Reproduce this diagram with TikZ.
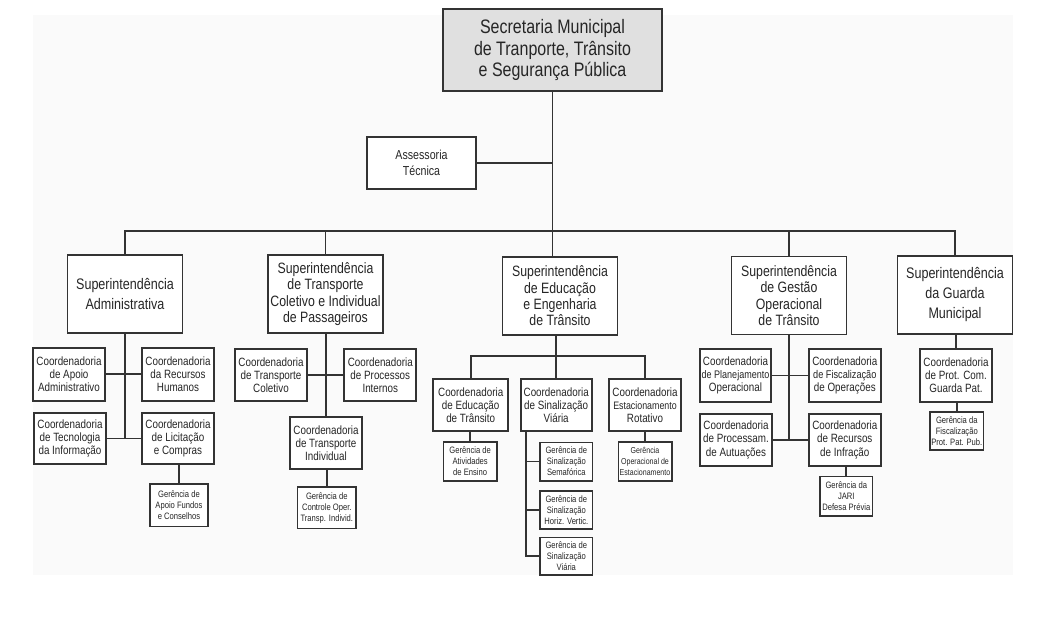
\documentclass[tikz,border=0pt]{standalone}
\usepackage{fontspec}
\setmainfont{Liberation Sans}[FakeStretch=0.82]
\begin{document}
\begin{tikzpicture}[x=1pt,y=-1pt,
  box/.style={draw=black!80,line width=1.8pt,rectangle,inner sep=0pt,align=center,text=black!85,fill=white},
  secbox/.style={box,fill=black!12,font=\fontsize{19.5}{21.5}\selectfont},
  supbox/.style={box,minimum width=115pt,minimum height=78pt,font=\fontsize{15.3}{20}\selectfont},
  supfour/.style={supbox,font=\fontsize{15}{16.4}\selectfont},
  coordbox/.style={box,font=\fontsize{12}{13.3}\selectfont},
  gerbox/.style={box,line width=1.6pt,font=\fontsize{9.3}{11}\selectfont},
  link/.style={draw=black!80,line width=1.7pt}]
\useasboundingbox (0,0) rectangle (1040,630);
\fill[black!2] (33,15) rectangle (1013,575);
% top
\node[secbox,minimum width=219pt,minimum height=82pt] (sec) at (552.5,50) {Secretaria Municipal\\de Tranporte, Trânsito\\e Segurança Pública};
\node[coordbox,minimum width=109pt,minimum height=52pt,font=\fontsize{13}{16}\selectfont] (ass) at (421.5,163) {Assessoria\\Técnica};
% superintendencias
\node[supbox] (sup1) at (125,294) {Superintendência\\Administrativa};
\node[supfour] (sup2) at (325.5,294) {Superintendência\\de Transporte\\Coletivo e Individual\\de Passageiros};
\node[supfour] (sup3) at (560,296) {Superintendência\\de Educação\\e Engenharia\\de Trânsito};
\node[supfour] (sup4) at (789,295.5) {Superintendência\\de Gestão\\Operacional\\de Trânsito};
\node[supbox] (sup5) at (955,295) {Superintendência\\da Guarda\\Municipal};
% bus
\coordinate (bus) at (552.5,231);
\coordinate (asj) at (552.5,163);
\draw[link] (sec.south) -- (sup3.north -| sec.south);
\draw[link] (ass.east) -- (asj);
\draw[link] (sup1.north) |- (bus) -| (sup5.north);
\draw[link] (sup2.north) -- (sup2.north |- bus);
\draw[link] (sup4.north) -- (sup4.north |- bus);
% admin
\node[coordbox,minimum width=72pt,minimum height=53pt] (ca1) at (69,374.2) {Coordenadoria\\de Apoio\\Administrativo};
\node[coordbox,minimum width=72pt,minimum height=53pt] (ca2) at (178,374.2) {Coordenadoria\\da Recursos\\Humanos};
\node[coordbox,minimum width=72pt,minimum height=51pt] (ca3) at (70,438.5) {Coordenadoria\\de Tecnologia\\da Informação};
\node[coordbox,minimum width=72pt,minimum height=51pt] (ca4) at (178,438.5) {Coordenadoria\\de Licitação\\e Compras};
\node[gerbox,minimum width=58pt,minimum height=42.7pt] (ga1) at (179,505.3) {Gerência de\\Apoio Fundos\\e Conselhos};
\coordinate (at1) at (125,374.2);
\coordinate (at2) at (125,438.5);
\draw[link] (sup1.south) -- (at2);
\draw[link] (ca1.east) -- (ca2.west);
\draw[link] (ca3.east) -- (ca4.west);
\draw[link] (ca4.south -| ga1.north) -- (ga1.north);
% transporte
\node[coordbox,minimum width=72pt,minimum height=52pt] (ct1) at (271,375.2) {Coordenadoria\\de Transporte\\Coletivo};
\node[coordbox,minimum width=72pt,minimum height=52pt] (ct2) at (380.3,375.2) {Coordenadoria\\de Processos\\Internos};
\node[coordbox,minimum width=71.4pt,minimum height=52pt] (ct3) at (326,443) {Coordenadoria\\de Transporte\\Individual};
\node[gerbox,minimum width=58.3pt,minimum height=41.7pt] (gt1) at (326.8,507.8) {Gerência de\\Controle Oper.\\Transp. Individ.};
\draw[link] (sup2.south -| ct3.north) -- (ct3.north);
\draw[link] (ct1.east) -- (ct2.west);
\draw[link] (ct3.south) -- (ct3.south -| gt1.north) -- (gt1.north);
% educacao
\node[coordbox,minimum width=74.7pt,minimum height=51.4pt] (ce1) at (470.7,405) {Coordenadoria\\de Educação\\de Trânsito};
\node[coordbox,minimum width=71pt,minimum height=51.4pt] (ce2) at (556.2,405) {Coordenadoria\\de Sinalização\\Viária};
\node[coordbox,minimum width=71.6pt,minimum height=51.4pt] (ce3) at (645,405) {Coordenadoria\\{\fontsize{10.8}{13.3}\selectfont Estacionamento}\\Rotativo};
\node[gerbox,minimum width=53.7pt,minimum height=39pt] (ge1) at (470.2,461.2) {Gerência de\\Atividades\\de Ensino};
\node[gerbox,minimum width=52.7pt,minimum height=38.4pt] (ge2) at (566.3,461.5) {Gerência de\\Sinalização\\Semafórica};
\node[gerbox,minimum width=52.7pt,minimum height=38.3pt] (ge3) at (566.3,509.9) {Gerência de\\Sinalização\\Horiz. Vertic.};
\node[gerbox,minimum width=52.7pt,minimum height=37.3pt] (ge4) at (566.3,556.3) {Gerência de\\Sinalização\\Viária};
\node[gerbox,minimum width=53.4pt,minimum height=39pt,font=\fontsize{8.6}{11}\selectfont] (ge5) at (645,461.2) {Gerência\\Operacional de\\Estacionamento};
\coordinate (eb) at (556.2,356);
\draw[link] (sup3.south -| ce2.north) -- (ce2.north);
\draw[link] (ce1.north) |- (eb) -| (ce3.north);
\draw[link] (ce1.south -| ge1.north) -- (ge1.north);
\draw[link] (ce3.south) -- (ge5.north);
\coordinate (sp) at (526,430.7);
\draw[link] (sp) |- (ge4.west);
\draw[link] (sp |- ge2.west) -- (ge2.west);
\draw[link] (sp |- ge3.west) -- (ge3.west);
% gestao
\node[coordbox,minimum width=71pt,minimum height=52.4pt] (cg1) at (735.5,375.5) {Coordenadoria\\{\fontsize{11}{13.3}\selectfont de Planejamento}\\Operacional};
\node[coordbox,minimum width=71.7pt,minimum height=52.4pt] (cg2) at (844.8,375.5) {Coordenadoria\\{\fontsize{11.2}{13.3}\selectfont de Fiscalização}\\de Operações};
\node[coordbox,minimum width=72pt,minimum height=51.7pt] (cg3) at (736,439.8) {Coordenadoria\\de Processam.\\de Autuações};
\node[coordbox,minimum width=71.7pt,minimum height=51.7pt] (cg4) at (844.8,439.8) {Coordenadoria\\de Recursos\\de Infração};
\node[gerbox,minimum width=52.7pt,minimum height=39.3pt] (gg1) at (846.3,496.3) {Gerência da\\JARI\\Defesa Prévia};
\coordinate (gt2) at (789,439.8);
\draw[link] (sup4.south) -- (gt2);
\draw[link] (cg1.east) -- (cg2.west);
\draw[link] (cg3.east) -- (cg4.west);
\draw[link] (cg4.south -| gg1.north) -- (gg1.north);
% guarda
\node[coordbox,minimum width=72pt,minimum height=52.7pt] (cp1) at (956,375.3) {Coordenadoria\\de Prot. Com.\\Guarda Pat.};
\node[gerbox,minimum width=53.7pt,minimum height=38pt] (gp1) at (956.8,431) {Gerência da\\Fiscalização\\Prot. Pat. Pub.};
\draw[link] (sup5.south -| cp1.north) -- (cp1.north);
\draw[link] (cp1.south -| gp1.north) -- (gp1.north);
\end{tikzpicture}
\end{document}
